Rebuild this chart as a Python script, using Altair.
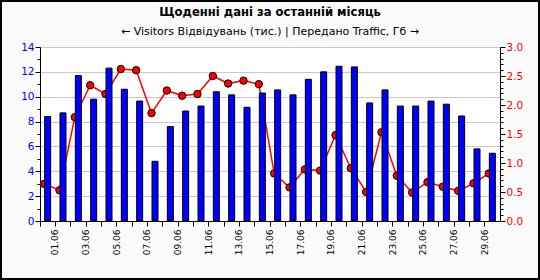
import altair as alt
import pandas as pd

days = ["01.06", "02.06", "03.06", "04.06", "05.06", "06.06", "07.06", "08.06", "09.06", "10.06",
        "11.06", "12.06", "13.06", "14.06", "15.06", "16.06", "17.06", "18.06", "19.06", "20.06",
        "21.06", "22.06", "23.06", "24.06", "25.06", "26.06", "27.06", "28.06", "29.06", "30.06"]
visitors = [8.4, 8.7, 11.7, 9.8, 12.3, 10.6, 9.65, 4.8, 7.6, 8.85,
            9.25, 10.4, 10.15, 9.15, 10.3, 10.55, 10.15, 11.4, 12.0, 12.45,
            12.4, 9.5, 10.55, 9.25, 9.25, 9.65, 9.4, 8.45, 5.8, 5.45]
traffic = [0.64, 0.53, 1.79, 2.34, 2.19, 2.62, 2.60, 1.86, 2.25, 2.16,
           2.19, 2.50, 2.37, 2.42, 2.36, 0.82, 0.58, 0.89, 0.87, 1.48,
           0.91, 0.50, 1.53, 0.78, 0.49, 0.67, 0.59, 0.52, 0.65, 0.82]
left_ticks = list(range(0, 15))
right_ticks = [round(i / 10, 1) for i in range(0, 31)]

df = pd.DataFrame({"day": days, "visitors": visitors, "traffic": traffic})

FONT = "DejaVu Sans"
W, H = 460, 174
band = W / len(days)

xenc = alt.X("day:N", sort=days,
             scale=alt.Scale(paddingInner=0, paddingOuter=0),
             axis=alt.Axis(title=None, bandPosition=0, labelOffset=band / 2,
                           labelAngle=270, labelAlign="right", labelBaseline="middle",
                           labelFont=FONT, labelFontSize=9, labelColor="black",
                           labelPadding=3, tickSize=5, tickColor="black",
                           domainColor="black", grid=False,
                           labelExpr="parseInt(substring(datum.label,0,2)) % 2 == 1 ? datum.label : ''"))

bars = alt.Chart(df).mark_bar(size=6, color="#0000ff", stroke="black", strokeWidth=1).encode(
    x=xenc,
    y=alt.Y("visitors:Q", scale=alt.Scale(domain=[0, 14], nice=False),
            axis=alt.Axis(title=None, orient="left", values=left_ticks,
                          labelExpr="datum.value % 2 == 0 ? datum.label : ''",
                          labelFont=FONT, labelFontSize=10.5, labelColor="#0000ff",
                          labelPadding=1,
                          tickColor="black", domainColor="black",
                          tickSize={"condition": {"test": "datum.value % 2 == 0", "value": 5}, "value": 3},
                          grid=True, gridColor="#c8c8c8",
                          gridOpacity={"condition": {"test": "datum.value % 2 == 0", "value": 1}, "value": 0})),
)

yr = alt.Y("traffic:Q", scale=alt.Scale(domain=[0, 3], nice=False),
           axis=alt.Axis(title=None, orient="right", values=right_ticks, format=".1f",
                         labelExpr="abs(datum.value*2 - round(datum.value*2)) < 0.01 ? datum.label : ''",
                         labelFont=FONT, labelFontSize=10.5, labelColor="#ff0000",
                         labelPadding=1, tickColor="black", domainColor="black",
                         tickSize={"condition": {"test": "abs(datum.value*2 - round(datum.value*2)) < 0.01", "value": 5}, "value": 3},
                         grid=False))

line = alt.Chart(df).mark_line(color="#ff0000", strokeWidth=1.5, xOffset=-3.5).encode(x=xenc, y=yr)
pts = alt.Chart(df).mark_point(filled=True, shape="circle", size=55, fill="#ff0000",
                               stroke="black", strokeWidth=1, opacity=1, xOffset=-3.5).encode(
    x=xenc, y=yr)
traffic_layer = alt.layer(line, pts)

border = alt.Chart(df).mark_rect(fill=None, stroke="black", strokeWidth=2).encode(
    x=alt.value(-39), x2=alt.value(W + 39), y=alt.value(-46), y2=alt.value(H + 58))

chart = alt.layer(traffic_layer, bars, border).resolve_scale(y="independent").properties(
    width=W, height=H,
    autosize=alt.AutoSizeParams(type="none"),
    padding={"left": 40, "top": 47, "right": 40, "bottom": 59},
    background="#fafafa",
    title=alt.Title(text="Щоденні дані за останній місяць",
                    subtitle="← Visitors Відвідувань (тис.) | Передано Traffic, Гб →",
                    font=FONT, fontSize=11.6, fontWeight="bold", color="black",
                    subtitleFont=FONT, subtitleFontSize=11, subtitleColor="black",
                    subtitlePadding=7, anchor="middle", offset=-37),
).configure_view(fill="white", stroke=None)

chart.save("out.html", embed_options={"renderer": "svg", "actions": False})
